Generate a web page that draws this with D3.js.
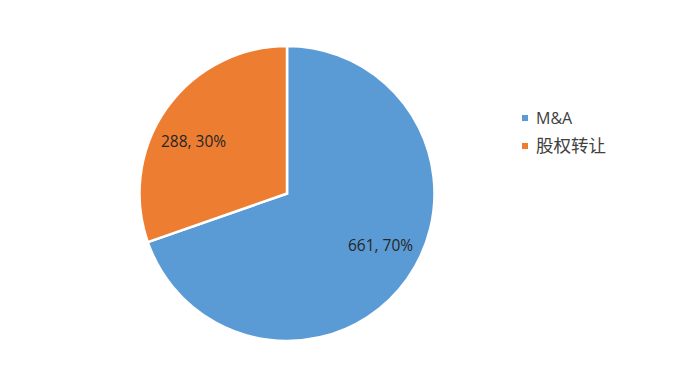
<!DOCTYPE html>
<html>
<head>
  <script src="https://d3js.org/d3.v7.min.js"></script>
  <style>
    body { margin: 0; background: #fff; }
    svg { display: block; }
    .slice-label { font-family: "Open Sans", "Liberation Sans", sans-serif; font-size: 15.5px; fill: #262626; }
    .legend-label { font-family: "Open Sans", "Noto Sans CJK SC", sans-serif; fill: #404040; }
  </style>
</head>
<body>
  <svg id="chart" width="686" height="376"></svg>
  <script>
    // chart data
    const categories = ["M&A", "股权转让"];
    const values = [661, 288];
    const colors = ["#5B9BD5", "#ED7D31"];

    const svg = d3.select("#chart");
    const cx = 287, cy = 193.5, radius = 147.5;

    const total = d3.sum(values);
    const pie = d3.pie().sort(null).value(d => d.value);
    const arcs = pie(categories.map((c, i) => ({ name: c, value: values[i] })));

    const arc = d3.arc().innerRadius(0).outerRadius(radius);

    const g = svg.append("g").attr("transform", `translate(${cx},${cy})`);

    g.selectAll("path")
      .data(arcs)
      .join("path")
      .attr("d", arc)
      .attr("fill", (d, i) => colors[i])
      .attr("stroke", "#fff")
      .attr("stroke-width", 2.5)
      .attr("stroke-linejoin", "miter");

    // data labels (value, percent), roughly "best fit" placement
    g.selectAll("text.slice-label")
      .data(arcs)
      .join("text")
      .attr("class", "slice-label")
      .attr("text-anchor", "middle")
      .attr("dy", "0.35em")
      .attr("transform", d => {
        const mid = (d.startAngle + d.endAngle) / 2 - 0.11;
        const [x, y] = d3.pointRadial(mid, 107);
        return `translate(${x},${y})`;
      })
      .text(d => `${d.value}, ${Math.round(d.value / total * 100)}%`);

    // legend
    const legend = svg.append("g").attr("transform", "translate(522,118)");
    const rows = legend.selectAll("g")
      .data(categories)
      .join("g")
      .attr("transform", (d, i) => `translate(0,${i * 28})`);

    rows.append("rect")
      .attr("x", 0).attr("y", -3)
      .attr("width", 6).attr("height", 6)
      .attr("fill", (d, i) => colors[i]);

    rows.append("text")
      .attr("class", "legend-label")
      .attr("x", 14)
      .attr("dy", "0.35em")
      .attr("font-size", (d, i) => i === 0 ? 16 : 17.5)
      .text(d => d);
  </script>
</body>
</html>
